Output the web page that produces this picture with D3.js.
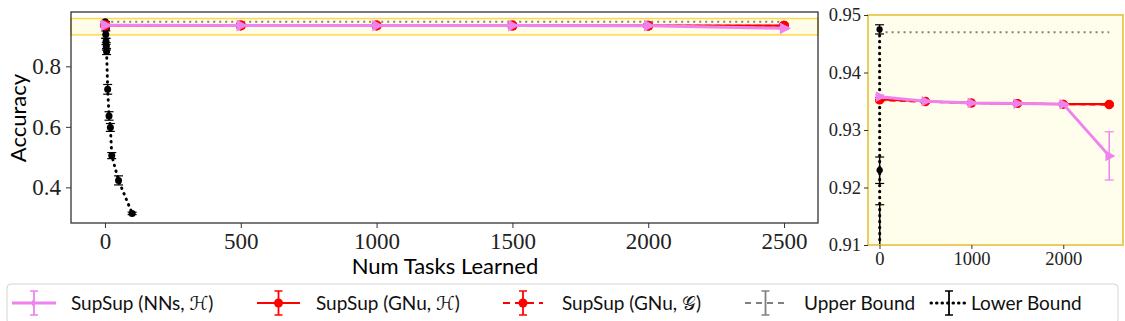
<!DOCTYPE html>
<html><head><meta charset="utf-8">
<script src="https://cdn.jsdelivr.net/npm/d3@7"></script>
<style>body{margin:0;background:#fff}svg{display:block}</style>
</head><body>
<svg id="c" width="1125" height="321"></svg>
<script>
// ---- data ----
const tasks = [1, 500, 1000, 1500, 2000, 2500];
const nnsH = [0.9358, 0.9350, 0.9347, 0.9346, 0.9345, 0.9255];
const nnsHErr = [0.0003, 0.0002, 0.0002, 0.0002, 0.0002, 0.0042];
const gnuH = [0.9353, 0.9350, 0.9347, 0.9346, 0.9345, 0.9345];
const gnuHErr = [0.0003, 0.0002, 0.0002, 0.0002, 0.0002, 0.0002];
const gnuG = [0.9352, 0.9349, 0.9347, 0.9346, 0.9345, 0.9344];
const gnuGErr = [0.0003, 0.0002, 0.0002, 0.0002, 0.0002, 0.0002];
const upperTasks = [1, 2500];
const upper = [0.947, 0.947];
const upperErr = [0, 0];
const lowerTasks = [1, 2, 3, 4, 5, 6, 10, 15, 20, 25, 50, 100];
const lower = [0.9475, 0.923, 0.905, 0.882, 0.866, 0.849, 0.724, 0.636, 0.598, 0.505, 0.423, 0.314];
const lowerErr = [0.0008, 0.0023, 0.012, 0.01, 0.012, 0.01, 0.016, 0.014, 0.013, 0.01, 0.015, 0.004];
const mainXTicks = [0, 500, 1000, 1500, 2000, 2500];
const mainYTicks = [0.4, 0.6, 0.8];
const insetXTicks = [0, 1000, 2000];
const insetYTicks = [0.91, 0.92, 0.93, 0.94, 0.95];
const legendLabels = ["SupSup (NNs, \u210B)", "SupSup (GNu, \u210B)", "SupSup (GNu, \uD835\uDCA2)", "Upper Bound", "Lower Bound"];

const svg = d3.select("#c");
const serif = "'Liberation Serif', 'DejaVu Serif', serif";
const sans = "Lato, 'DejaVu Sans', sans-serif";
const PINK = "#ee82ee", RED = "#ff0000", GRAY = "#808080", BLACK = "#000";

const series = [
  {x: upperTasks, y: upper, e: upperErr, color: GRAY, w: 2, dash: "2,4", cap: "butt", marker: null, legDash: "6,5"},
  {x: lowerTasks, y: lower, e: lowerErr, color: BLACK, w: 3, dash: "0.5,5.5", cap: "round", marker: "dot", legDash: "0.5,5"},
  {x: tasks, y: gnuG, e: gnuGErr, color: RED, w: 2, dash: "6,4", cap: "butt", marker: "circle", legDash: "7,5"},
  {x: tasks, y: gnuH, e: gnuHErr, color: RED, w: 2.2, dash: null, cap: "butt", marker: "circle", legDash: null},
  {x: tasks, y: nnsH, e: nnsHErr, color: PINK, w: 3, dash: null, cap: "butt", marker: "tri", legDash: null}
];

function drawPanel(g, x, y, clipId, opts) {
  const [x0, x1] = x.range(), [y1, y0] = y.range();
  g.append("clipPath").attr("id", clipId).append("rect")
    .attr("x", x0).attr("y", y0).attr("width", x1 - x0).attr("height", y1 - y0);
  const p = g.append("g").attr("clip-path", `url(#${clipId})`);
  series.forEach(s => {
    const pts = s.x.map((xv, i) => ({x: xv, y: s.y[i], e: s.e[i]}));
    const line = d3.line().x(d => x(d.x)).y(d => y(d.y));
    p.append("path").datum(pts).attr("d", line).attr("fill", "none")
      .attr("stroke", s.color).attr("stroke-width", s.w)
      .attr("stroke-dasharray", s.dash).attr("stroke-linecap", s.cap);
    const cw = opts.cap;
    pts.forEach(d => {
      const cx = x(d.x);
      if (d.e > 0) {
        const ya = y(d.y + d.e), yb = y(d.y - d.e);
        p.append("line").attr("x1", cx).attr("x2", cx).attr("y1", ya).attr("y2", yb)
          .attr("stroke", s.color).attr("stroke-width", 1.5);
        [ya, yb].forEach(yy => p.append("line").attr("x1", cx - cw).attr("x2", cx + cw)
          .attr("y1", yy).attr("y2", yy).attr("stroke", s.color).attr("stroke-width", 1.2));
      }
      if (s.marker === "circle") {
        p.append("circle").attr("cx", cx).attr("cy", y(d.y)).attr("r", opts.r).attr("fill", s.color);
      } else if (s.marker === "tri") {
        const r = opts.r * 1.4, cy = y(d.y);
        p.append("path").attr("d", `M${cx + r},${cy} L${cx - r * 0.6},${cy - r * 0.85} L${cx - r * 0.6},${cy + r * 0.85}Z`)
          .attr("fill", s.color);
      } else if (s.marker === "dot") {
        p.append("circle").attr("cx", cx).attr("cy", y(d.y)).attr("r", opts.r * 0.7).attr("fill", s.color);
      }
    });
  });
}

// ---- main panel ----
const mx = d3.scaleLinear().domain([-125, 2625]).range([71, 818]);
const my = d3.scaleLinear().domain([0.2822, 0.9796]).range([223, 12]);
const main = svg.append("g");
main.append("rect").attr("x", 71).attr("y", my(0.958)).attr("width", 747)
  .attr("height", my(0.904) - my(0.958)).attr("fill", "#fffce8")
  .attr("stroke", "#ffd84a").attr("stroke-width", 1.5);
drawPanel(main, mx, my, "clipMain", {cap: 4.5, r: 5});
main.append("rect").attr("x", 71).attr("y", 12).attr("width", 747).attr("height", 211)
  .attr("fill", "none").attr("stroke", "#333").attr("stroke-width", 1.3);
const mxAxis = main.append("g").attr("transform", "translate(0,223)")
  .call(d3.axisBottom(mx).tickValues(mainXTicks).tickSize(5).tickPadding(5).tickFormat(d3.format("d")));
const myAxis = main.append("g").attr("transform", "translate(71,0)")
  .call(d3.axisLeft(my).tickValues(mainYTicks).tickSize(5).tickPadding(5).tickFormat(d3.format(".1f")));
[mxAxis, myAxis].forEach(a => {
  a.select(".domain").remove();
  a.selectAll("line").attr("stroke", "#333");
  a.selectAll("text").attr("font-family", serif).attr("font-size", 23).attr("fill", "#222");
});
main.append("text").attr("x", 445).attr("y", 274).attr("text-anchor", "middle")
  .attr("font-family", sans).attr("font-size", 22).text("Num Tasks Learned");
main.append("text").attr("transform", "translate(26,118) rotate(-90)").attr("text-anchor", "middle")
  .attr("font-family", sans).attr("font-size", 22).text("Accuracy");

// ---- inset ----
const ix = d3.scaleLinear().domain([-125, 2650]).range([868, 1123]);
const iy = d3.scaleLinear().domain([0.91, 0.95]).range([245, 15]);
const inset = svg.append("g");
inset.append("rect").attr("x", 868).attr("y", 15).attr("width", 255).attr("height", 230)
  .attr("fill", "#fffdeb");
drawPanel(inset, ix, iy, "clipInset", {cap: 4.5, r: 4.5});
inset.append("rect").attr("x", 868).attr("y", 15).attr("width", 255).attr("height", 230)
  .attr("fill", "none").attr("stroke", "#e8c84c").attr("stroke-width", 1.8);
const ixAxis = inset.append("g").attr("transform", "translate(0,245)")
  .call(d3.axisBottom(ix).tickValues(insetXTicks).tickSize(4).tickPadding(3).tickFormat(d3.format("d")));
const iyAxis = inset.append("g").attr("transform", "translate(868,0)")
  .call(d3.axisLeft(iy).tickValues(insetYTicks).tickSize(4).tickPadding(3).tickFormat(d3.format(".2f")));
[ixAxis, iyAxis].forEach(a => {
  a.select(".domain").remove();
  a.selectAll("line").attr("stroke", "#333");
  a.selectAll("text").attr("font-family", serif).attr("font-size", 18.5).attr("fill", "#222");
});

// ---- legend ----
const leg = svg.append("g");
leg.append("rect").attr("x", 7).attr("y", 284).attr("width", 1111).attr("height", 40).attr("rx", 4)
  .attr("fill", "#fff").attr("stroke", "#d4d4d4").attr("stroke-width", 1);
const legItems = [
  {x0: 12, x1: 56, tx: 71, s: series[4]},
  {x0: 257, x1: 300, tx: 316, s: series[3]},
  {x0: 503, x1: 543, tx: 562, s: series[2]},
  {x0: 745, x1: 786, tx: 804, s: series[0]},
  {x0: 931, x1: 967, tx: 971, s: series[1]}
];
legItems.forEach((it, i) => {
  const s = it.s, cy = 303, xa = it.x0, xb = it.x1, cx = (xa + xb) / 2;
  leg.append("line").attr("x1", xa).attr("x2", xb).attr("y1", cy).attr("y2", cy)
    .attr("stroke", s.color).attr("stroke-width", s.w).attr("stroke-dasharray", s.legDash)
    .attr("stroke-linecap", s.cap);
  leg.append("line").attr("x1", cx).attr("x2", cx).attr("y1", cy - 12).attr("y2", cy + 12)
    .attr("stroke", s.color).attr("stroke-width", 1.8);
  [cy - 12, cy + 12].forEach(yy => leg.append("line").attr("x1", cx - 4).attr("x2", cx + 4)
    .attr("y1", yy).attr("y2", yy).attr("stroke", s.color).attr("stroke-width", 1.5));
  if (s.marker === "circle") leg.append("circle").attr("cx", cx).attr("cy", cy).attr("r", 4.5).attr("fill", s.color);
  if (s.marker === "tri") leg.append("path").attr("d", `M${cx + 3},${cy} L${cx - 2},${cy - 3} L${cx - 2},${cy + 3}Z`).attr("fill", s.color);
  leg.append("text").attr("x", it.tx).attr("y", cy + 7).attr("font-family", sans).attr("font-size", 19)
    .attr("fill", "#111").text(legendLabels[i]);
});
</script>
</body></html>
